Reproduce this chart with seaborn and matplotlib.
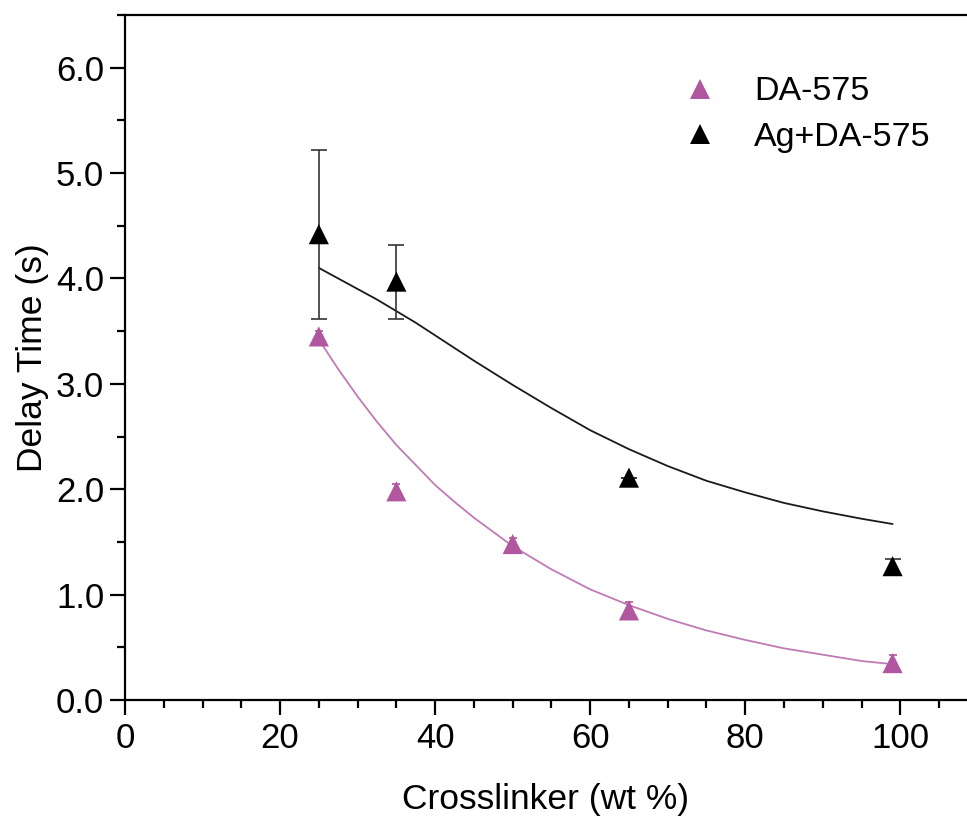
import numpy as np
import pandas as pd
import matplotlib
matplotlib.use("Agg")
import matplotlib.pyplot as plt
import seaborn as sns
from matplotlib.ticker import MultipleLocator

# measured points
da_x = [25, 35, 50, 65, 99]
da_y = [3.45, 1.98, 1.48, 0.85, 0.35]
da_err = [0.05, 0.07, 0.06, 0.08, 0.08]

ag_x = [25, 35, 65, 99]
ag_y = [4.42, 3.97, 2.11, 1.27]
ag_err = [0.80, 0.35, 0.0, 0.07]

# fitted curves
fit_x = [25, 27.5, 30, 32.5, 35, 37.5, 40, 42.5, 45, 50, 55, 60, 65, 70, 75, 80, 85, 90, 95, 99]
da_fit = [3.42, 3.14, 2.88, 2.64, 2.42, 2.23, 2.04, 1.88, 1.73, 1.46, 1.24, 1.05, 0.90,
          0.77, 0.66, 0.57, 0.49, 0.43, 0.37, 0.34]
ag_fit = [4.10, 4.00, 3.90, 3.80, 3.69, 3.58, 3.46, 3.34, 3.22, 2.99, 2.77, 2.56, 2.38,
          2.22, 2.08, 1.97, 1.87, 1.79, 1.72, 1.67]

labels = ["DA-575", "Ag+DA-575"]
colors = ["#B1579F", "#000000"]
fit_colors = ["#C07AB5", "#1a1a1a"]

sns.set_style("ticks")
plt.rcParams['font.family'] = ['Liberation Sans', 'DejaVu Sans']
plt.rcParams['text.color'] = 'black'
plt.rcParams['axes.labelcolor'] = 'black'
plt.rcParams['xtick.color'] = 'black'
plt.rcParams['ytick.color'] = 'black'

pts = pd.DataFrame({
    "x": da_x + ag_x,
    "y": da_y + ag_y,
    "series": [labels[0]] * len(da_x) + [labels[1]] * len(ag_x),
})
fits = pd.DataFrame({
    "x": fit_x + fit_x,
    "y": da_fit + ag_fit,
    "series": [labels[0]] * len(fit_x) + [labels[1]] * len(fit_x),
})

fig = plt.figure(figsize=(9.67, 8.17), dpi=100)
ax = fig.add_axes([125 / 967, 1 - 700 / 817, 1 - 125 / 967, (700 - 15) / 817])

sns.lineplot(data=fits, x="x", y="y", hue="series", palette=fit_colors,
             linewidth=1.3, legend=False, ax=ax, zorder=2)

ax.errorbar(da_x, da_y, yerr=da_err, fmt='none', ecolor=colors[0],
            elinewidth=1.2, capsize=3, capthick=1.2, zorder=3)
ax.errorbar(ag_x, ag_y, yerr=ag_err, fmt='none', ecolor="#333333",
            elinewidth=1.2, capsize=6, capthick=1.2, zorder=3)

sns.scatterplot(data=pts, x="x", y="y", hue="series", palette=colors,
                marker="^", s=210, linewidth=0, ax=ax, zorder=4)

ax.set_xlim(0, 108.6)
ax.set_ylim(0, 6.5)
ax.xaxis.set_major_locator(MultipleLocator(20))
ax.xaxis.set_minor_locator(MultipleLocator(5))
ax.yaxis.set_major_locator(MultipleLocator(1))
ax.yaxis.set_minor_locator(MultipleLocator(0.5))
ax.yaxis.set_major_formatter(matplotlib.ticker.FormatStrFormatter('%.1f'))

ax.tick_params(which='major', length=11, width=1.6, labelsize=25, direction='out')
ax.tick_params(which='minor', length=5.5, width=1.6, direction='out')
ax.tick_params(axis='x', pad=5)
ax.tick_params(axis='y', pad=4)

for side in ['left', 'bottom', 'top']:
    ax.spines[side].set_linewidth(1.6)
    ax.spines[side].set_color('black')
ax.spines['right'].set_visible(False)

ax.set_xlabel("Crosslinker (wt %)", fontsize=25.5, labelpad=20)
ax.set_ylabel("Delay Time (s)", fontsize=25.5, labelpad=5)

leg = ax.legend(loc='upper left', bbox_to_anchor=(0.606, 0.955), frameon=False,
                fontsize=24.5, markerscale=0.95, handletextpad=0.6, labelspacing=0.42)

fig.savefig("out.png", dpi=100)
